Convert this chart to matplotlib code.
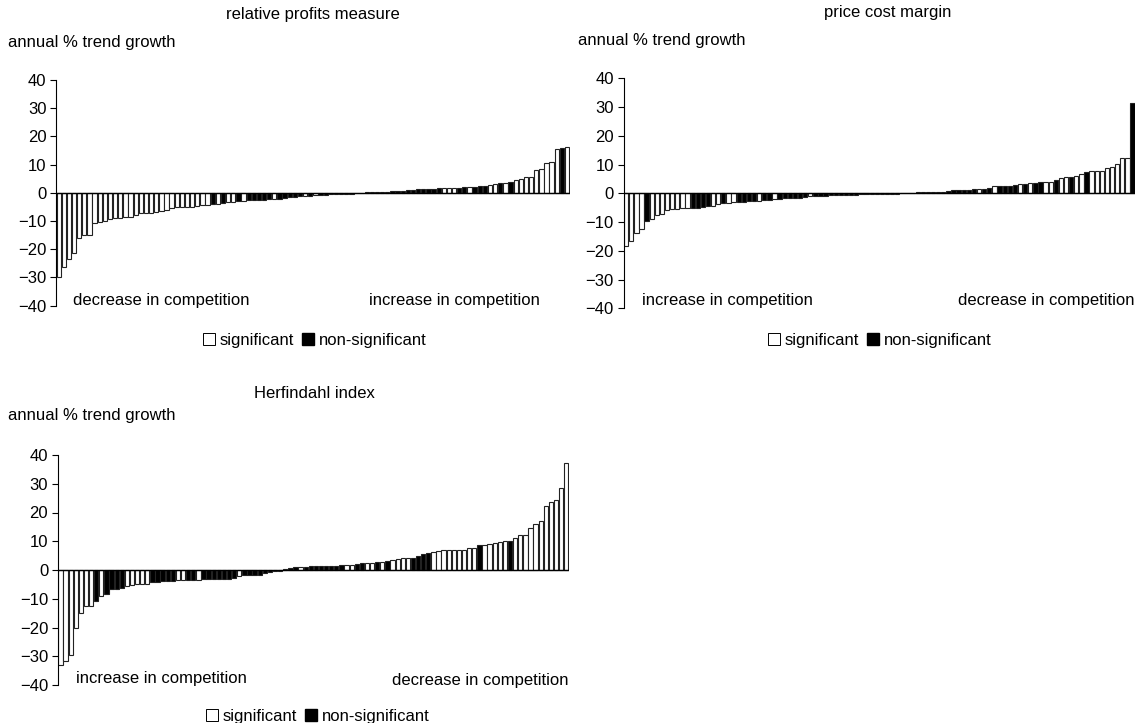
import matplotlib
matplotlib.use('Agg')
import matplotlib.pyplot as plt
from matplotlib.patches import Patch
import numpy as np

plt.rcParams['font.family'] = ['Liberation Sans', 'DejaVu Sans']
plt.rcParams['font.size'] = 12

W, H = 1138, 723

# relative profits measure (sorted annual % trend growth), 1 = significant
rpm_vals = [-30.0, -26.4, -23.5, -21.4, -16.1, -15.1, -15.1, -10.6, -10.4, -10.1,
            -9.2, -8.8, -8.8, -8.7, -8.5, -7.9, -7.3, -7.3, -7.1, -6.7,
            -6.5, -6.1, -5.5, -5.2, -5.1, -4.9, -4.9, -4.7, -4.5, -4.2,
            -4.0, -4.0, -3.5, -3.4, -3.2, -3.1, -2.8, -2.7, -2.6, -2.5,
            -2.4, -2.3, -2.2, -2.1, -2.0, -1.5, -1.4, -1.3, -1.2, -1.0,
            -0.9, -0.8, -0.7, -0.6, -0.5, -0.4, -0.3, -0.3, -0.2, -0.1,
            0.1, 0.1, 0.2, 0.3, 0.4, 0.5, 0.6, 0.7, 0.8, 1.0,
            1.2, 1.4, 1.5, 1.5, 1.6, 1.6, 1.6, 1.7, 1.8, 1.9,
            2.0, 2.2, 2.3, 2.4, 2.7, 3.0, 3.3, 3.4, 3.9, 4.7,
            4.9, 5.6, 5.7, 8.1, 8.3, 10.7, 11.0, 15.6, 15.9, 16.4]
rpm_sig = [1]*30 + [0, 1, 0, 1, 1, 0, 1, 0, 0, 0,
                    0, 0, 1, 0, 0, 0, 0, 0, 1, 0,
                    1] + [0]*24 + [1, 1, 1, 0, 0, 1, 0, 0, 0, 1,
                                   1, 0, 1, 0, 1, 1, 1, 1, 1, 1,
                                   1, 1, 1, 0, 1]

# price cost margin
pcm_vals = [-18.2, -16.5, -13.7, -12.3, -9.6, -9.0, -7.7, -7.2, -5.8, -5.6,
            -5.4, -5.2, -5.1, -5.1, -5.0, -4.8, -4.4, -4.3, -3.7, -3.5,
            -3.2, -3.1, -3.0, -2.9, -2.8, -2.7, -2.6, -2.5, -2.4, -2.0,
            -1.9, -1.8, -1.7, -1.6, -1.5, -1.4, -1.0, -0.9, -0.8, -0.8,
            -0.7, -0.7, -0.6, -0.6, -0.5, -0.5, -0.4, -0.4, -0.3, -0.3,
            -0.2, -0.2, -0.1, -0.1, 0.1, 0.1, 0.2, 0.3, 0.3, 0.4,
            0.5, 0.5, 0.6, 0.7, 1.2, 1.2, 1.3, 1.3, 1.4, 1.4,
            1.5, 1.9, 2.5, 2.7, 2.7, 2.7, 2.8, 3.2, 3.4, 3.5,
            3.7, 3.8, 3.9, 3.9, 4.5, 5.4, 5.7, 5.8, 6.0, 6.8,
            7.5, 7.6, 7.8, 7.8, 8.7, 9.3, 10.1, 12.3, 12.3, 31.3]
pcm_sig = [1, 1, 1, 1, 0, 1, 1, 1, 1, 1,
           1, 1, 1, 0, 0, 0, 0, 1, 1, 0,
           1, 1, 0, 0, 0, 0, 1, 0, 0, 1,
           0, 0, 0, 0, 0, 0, 1, 0, 0, 0,
           0, 0, 0, 0, 0, 0, 0, 0, 0, 0,
           1, 0, 0, 0, 0, 0, 1, 0, 0, 0,
           0, 0, 0, 0, 0, 0, 0, 0, 0, 1,
           0, 0, 1, 0, 0, 0, 0, 1, 0, 1,
           0, 0, 1, 1, 0, 1, 1, 0, 1, 1,
           0, 1, 1, 1, 1, 1, 1, 1, 1, 0]

# Herfindahl index
hhi_vals = [-33.2, -31.8, -29.7, -20.1, -14.8, -12.6, -12.6, -10.7, -9.1, -8.2,
            -6.5, -6.5, -6.2, -5.6, -5.1, -5.0, -5.0, -4.7, -4.3, -4.0,
            -3.8, -3.7, -3.7, -3.6, -3.5, -3.5, -3.4, -3.4, -3.3, -3.2,
            -3.2, -3.1, -3.0, -3.0, -2.9, -2.0, -1.9, -1.8, -1.7, -1.6,
            -1.0, -0.8, -0.5, -0.2, 0.5, 0.6, 0.9, 1.0, 1.2, 1.3,
            1.4, 1.4, 1.4, 1.5, 1.5, 1.6, 1.7, 1.8, 2.2, 2.3,
            2.4, 2.5, 2.8, 2.9, 3.0, 3.4, 4.0, 4.1, 4.2, 4.3,
            4.9, 5.4, 5.8, 6.3, 6.6, 6.8, 6.8, 6.9, 6.9, 7.0,
            7.5, 7.5, 8.6, 8.7, 8.9, 9.3, 9.8, 10.2, 10.2, 11.1,
            12.2, 12.3, 14.5, 16.0, 17.0, 22.3, 23.5, 24.4, 28.4, 37.3]
hhi_sig = [1, 1, 1, 1, 1, 1, 1, 0, 1, 0,
           0, 0, 0, 1, 1, 1, 1, 1, 0, 0,
           0, 0, 0, 1, 1, 0, 0, 1, 0, 0,
           0, 0, 0, 0, 0, 1, 0, 0, 0, 0,
           0, 0, 0, 0, 0, 0, 0, 1, 0, 0,
           0, 0, 0, 0, 0, 0, 1, 1, 0, 0,
           1, 1, 0, 1, 0, 1, 1, 1, 1, 0,
           0, 0, 0, 1, 1, 1, 1, 1, 1, 1,
           1, 1, 0, 1, 1, 1, 1, 1, 0, 1,
           1, 1, 1, 1, 1, 1, 1, 1, 1, 1]

panels = [
    # values, sig, title, left label, right label, axes box (px: x0, x1, ytop, ybottom)
    (rpm_vals, rpm_sig, 'relative profits measure', 'decrease in competition', 'increase in competition',
     (56.1, 569.6, 80.0, 305.5)),
    (pcm_vals, pcm_sig, 'price cost margin', 'increase in competition', 'decrease in competition',
     (623.6, 1135.1, 78.3, 308.3)),
    (hhi_vals, hhi_sig, 'Herfindahl index', 'increase in competition', 'decrease in competition',
     (57.9, 568.8, 455.0, 685.0)),
]
title_pos = [(313, 14), (888, 12), (314, 394)]
ylab_pos = [(8, 42), (578, 40), (8, 416)]
left_txt = [(73, 300), (642, 300), (76, 679)]
right_txt = [(540, 300), (1135, 300), (569, 680)]
legend_pos = [(315, 340), (880, 340), (318, 716)]


def fx(x):
    return x / W


def fy(y):
    return 1 - y / H


fig = plt.figure(figsize=(W / 100, H / 100), dpi=100)

for k, (vals, sig, title, ltxt, rtxt, box) in enumerate(panels):
    x0, x1, yt, yb = box
    ax = fig.add_axes([fx(x0), fy(yb), (x1 - x0) / W, (yb - yt) / H])
    n = len(vals)
    x = np.arange(n)
    fc = ['white' if s else 'black' for s in sig]
    ax.bar(x, vals, width=0.84, color=fc, edgecolor='#222222', linewidth=0.8)
    ax.axhline(0, color='black', lw=1.0)
    ax.set_xlim(-0.5, n - 0.5)
    ax.set_ylim(-40, 40)
    ax.set_yticks(range(-40, 41, 10))
    ax.set_xticks([])
    for s in ['top', 'right', 'bottom']:
        ax.spines[s].set_visible(False)
    ax.spines['left'].set_linewidth(0.8)
    ax.tick_params(axis='y', direction='out', length=4, width=0.8, pad=3, labelsize=12)

    fig.text(fx(title_pos[k][0]), fy(title_pos[k][1]), title, ha='center', va='center', fontsize=12)
    fig.text(fx(ylab_pos[k][0]), fy(ylab_pos[k][1]), 'annual % trend growth', ha='left', va='center', fontsize=12)
    fig.text(fx(left_txt[k][0]), fy(left_txt[k][1]), ltxt, ha='left', va='center', fontsize=12)
    fig.text(fx(right_txt[k][0]), fy(right_txt[k][1]), rtxt, ha='right', va='center', fontsize=12)

    handles = [Patch(facecolor='white', edgecolor='black', linewidth=0.7),
               Patch(facecolor='black', edgecolor='black')]
    fig.legend(handles, ['significant', 'non-significant'], loc='center',
               bbox_to_anchor=(fx(legend_pos[k][0]), fy(legend_pos[k][1])), ncol=2, frameon=False,
               handlelength=0.7, handleheight=0.7, handletextpad=0.3, columnspacing=0.5,
               borderpad=0, fontsize=12)

fig.savefig('out.png', dpi=100)
